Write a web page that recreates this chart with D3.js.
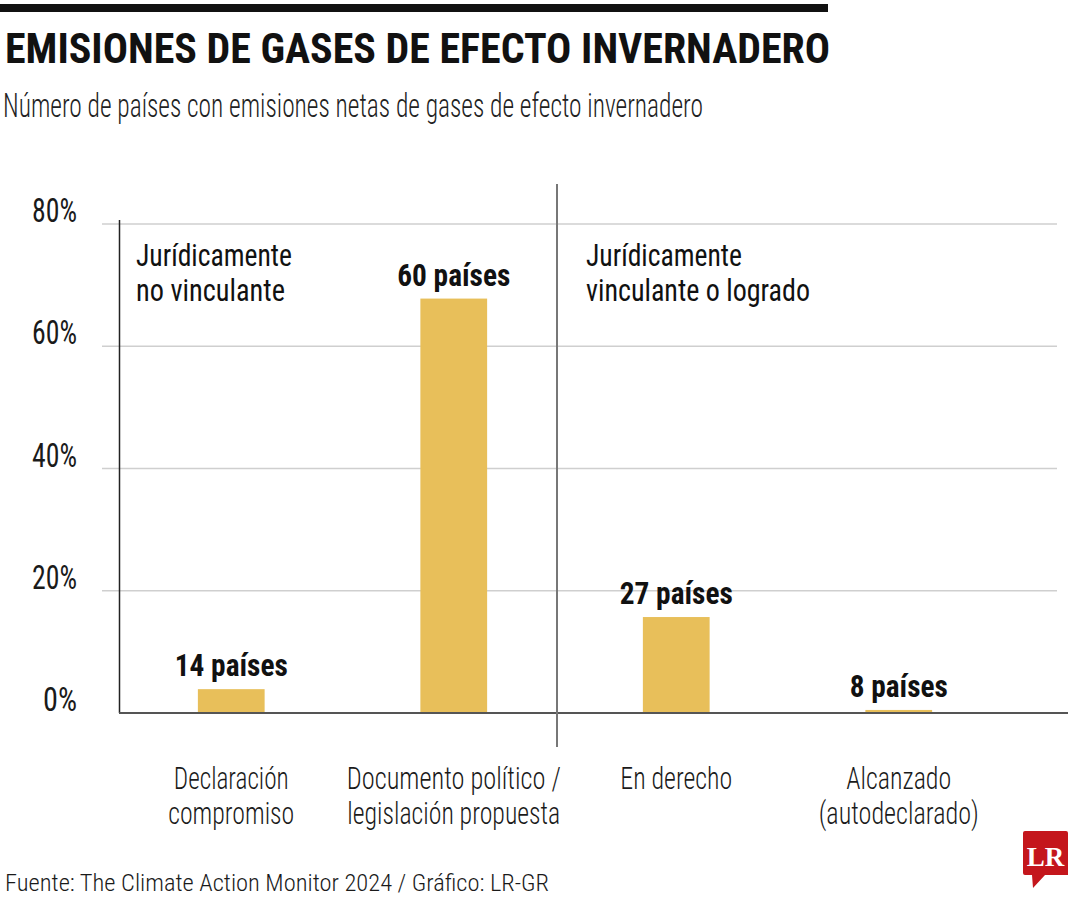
<!DOCTYPE html>
<html><head><meta charset="utf-8">
<script src="https://cdn.jsdelivr.net/npm/d3@7"></script>
<style>
html,body{margin:0;padding:0;background:#fff;}
svg text{font-family:"Liberation Sans Narrow","Roboto Condensed","DejaVu Sans Condensed",Roboto,"Liberation Sans",sans-serif;}
</style></head>
<body>
<svg id="chart" width="1080" height="900"></svg>
<script>
// ---- data ----
const categories = ["Declaración compromiso", "Documento político / legislación propuesta", "En derecho", "Alcanzado (autodeclarado)"];
const categoryLines = [["Declaración", "compromiso"], ["Documento político /", "legislación propuesta"], ["En derecho"], ["Alcanzado", "(autodeclarado)"]];
const shares = [3.9, 67.8, 15.7, 0.5];
const countries = [14, 60, 27, 8];                // número de países
const yTicks = [0, 20, 40, 60, 80];
const groupLabels = [["Jurídicamente", "no vinculante"], ["Jurídicamente", "vinculante o logrado"]];
const title = "EMISIONES DE GASES DE EFECTO INVERNADERO";
const subtitle = "Número de países con emisiones netas de gases de efecto invernadero";
const source = "Fuente: The Climate Action Monitor 2024 / Gráfico: LR-GR";

// ---- drawing ----
const svg = d3.select("#chart");
const barColor = "#e8bf5a";

function fit(sel, w) {
  sel.each(function () {
    const n = this.getComputedTextLength();
    if (Math.abs(n - w) > 1) {
      d3.select(this).attr("textLength", w).attr("lengthAdjust", "spacingAndGlyphs");
    }
  });
  return sel;
}

// top rule
svg.append("rect").attr("x", 0).attr("y", 4).attr("width", 828).attr("height", 8).attr("fill", "#111");

fit(svg.append("text").attr("x", 5).attr("y", 63).attr("font-size", 43).attr("font-weight", 700)
  .attr("fill", "#111").text(title), 825);
fit(svg.append("text").attr("x", 3).attr("y", 117).attr("font-size", 33).attr("font-weight", 300)
  .attr("fill", "#222").text(subtitle), 700);

const x = d3.scaleBand().domain(categories).range([120, 1010]).paddingInner(0.7).paddingOuter(0.35);
const y = d3.scaleLinear().domain([0, 80]).range([713, 224]);

// gridlines
svg.append("g").selectAll("line").data(yTicks.filter(d => d > 0)).join("line")
  .attr("x1", 102).attr("x2", 1057).attr("y1", d => y(d)).attr("y2", d => y(d))
  .attr("stroke", "#cfcfcf").attr("stroke-width", 1.5);

// y labels
const yl = svg.append("g").selectAll("text").data(yTicks).join("text")
  .attr("x", 77).attr("y", d => y(d) - 2).attr("text-anchor", "end")
  .attr("font-size", 33).attr("font-weight", 400).attr("fill", "#1a1a1a")
  .text(d => d + "%");
yl.each(function (d) { fit(d3.select(this), d === 0 ? 34 : 45); });

// bars
svg.append("g").selectAll("rect").data(categories).join("rect")
  .attr("x", d => x(d)).attr("width", x.bandwidth())
  .attr("y", (d, i) => y(shares[i])).attr("height", (d, i) => y(0) - y(shares[i]))
  .attr("fill", barColor);

// y axis line
svg.append("line").attr("x1", 119.5).attr("x2", 119.5).attr("y1", 220).attr("y2", 713)
  .attr("stroke", "#222").attr("stroke-width", 1.5);
// x axis line
svg.append("line").attr("x1", 119).attr("x2", 1068).attr("y1", 713).attr("y2", 713)
  .attr("stroke", "#555").attr("stroke-width", 2);
// divider between the two groups
const divX = 557;
svg.append("line").attr("x1", divX).attr("x2", divX).attr("y1", 184).attr("y2", 747)
  .attr("stroke", "#777").attr("stroke-width", 2);

// value labels
const vl = svg.append("g").selectAll("text").data(categories).join("text")
  .attr("x", d => x(d) + x.bandwidth() / 2)
  .attr("y", (d, i) => y(shares[i]) - 13)
  .attr("text-anchor", "middle").attr("font-size", 32).attr("font-weight", 700).attr("fill", "#111")
  .text((d, i) => countries[i] + " países");
vl.each(function (d, i) { fit(d3.select(this), countries[i] >= 10 ? 113 : 98); });

// category labels
const catWidths = [[115, 126], [214, 213], [112], [105, 160]];
categories.forEach((c, i) => {
  categoryLines[i].forEach((line, j) => {
    fit(svg.append("text").attr("x", x(c) + x.bandwidth() / 2).attr("y", 789 + j * 35)
      .attr("text-anchor", "middle").attr("font-size", 32).attr("font-weight", 300).attr("fill", "#1a1a1a")
      .text(line), catWidths[i][j]);
  });
});

// group annotations
const groupX = [136, 586];
const groupWidths = [[156, 149], [156, 224]];
groupLabels.forEach((g, i) => {
  g.forEach((line, j) => {
    fit(svg.append("text").attr("x", groupX[i]).attr("y", 266 + j * 35)
      .attr("font-size", 32).attr("font-weight", 400).attr("fill", "#111").text(line), groupWidths[i][j]);
  });
});

// source
fit(svg.append("text").attr("x", 5).attr("y", 891).attr("font-size", 24).attr("font-weight", 300)
  .attr("fill", "#1a1a1a").text(source), 544);

// LR logo
const logo = svg.append("g");
logo.append("path")
  .attr("d", "M1025,831 H1066 Q1068,831 1068,833 V875 H1045 L1033,888 L1032,875 H1025 Q1023,875 1023,873 V833 Q1023,831 1025,831 Z")
  .attr("fill", "#c4161c");
logo.append("text").attr("x", 1045.5).attr("y", 866).attr("text-anchor", "middle")
  .attr("font-size", 27).attr("font-weight", 700).attr("fill", "#fff")
  .style("font-family", "'Liberation Serif','DejaVu Serif',serif")
  .text("LR");
</script>
</body></html>
